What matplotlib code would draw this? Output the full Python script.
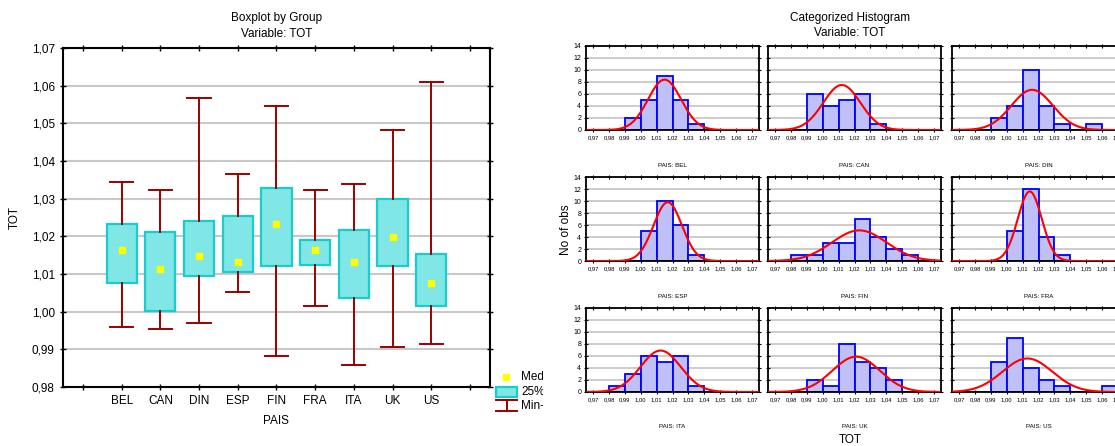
import numpy as np
import matplotlib
matplotlib.use('Agg')
import matplotlib.pyplot as plt
from matplotlib.patches import Rectangle
from matplotlib.ticker import FuncFormatter

plt.rcParams['font.family'] = ['Liberation Sans', 'DejaVu Sans']

# boxplot values (TOT by PAIS)
groups = ['BEL', 'CAN', 'DIN', 'ESP', 'FIN', 'FRA', 'ITA', 'UK', 'US']
box_min = [0.9960, 0.9955, 0.9971, 1.0051, 0.9881, 1.0014, 0.9859, 0.9907, 0.9913]
box_q1 = [1.0077, 1.0003, 1.0094, 1.0104, 1.0120, 1.0125, 1.0035, 1.0120, 1.0015]
box_med = [1.0165, 1.0112, 1.0149, 1.0133, 1.0234, 1.0165, 1.0133, 1.0197, 1.0075]
box_q3 = [1.0233, 1.0211, 1.0242, 1.0253, 1.0328, 1.0189, 1.0216, 1.0300, 1.0152]
box_max = [1.0344, 1.0322, 1.0567, 1.0366, 1.0546, 1.0322, 1.0339, 1.0482, 1.0610]

# histogram counts, bins 0.97-0.98 ... 1.06-1.07
bin_edges = [0.97, 0.98, 0.99, 1.00, 1.01, 1.02, 1.03, 1.04, 1.05, 1.06, 1.07]
hist_bel = [0, 0, 2, 5, 9, 5, 1, 0, 0, 0]
hist_can = [0, 0, 6, 4, 5, 6, 1, 0, 0, 0]
hist_din = [0, 0, 2, 4, 10, 4, 1, 0, 1, 0]
hist_esp = [0, 0, 0, 5, 10, 6, 1, 0, 0, 0]
hist_fin = [0, 1, 1, 3, 3, 7, 4, 2, 1, 0]
hist_fra = [0, 0, 0, 5, 12, 4, 1, 0, 0, 0]
hist_ita = [0, 1, 3, 6, 5, 6, 1, 0, 0, 0]
hist_uk = [0, 0, 2, 1, 8, 5, 4, 2, 0, 0]
hist_us = [0, 0, 5, 9, 4, 2, 1, 0, 0, 1]
hists = [hist_bel, hist_can, hist_din, hist_esp, hist_fin, hist_fra, hist_ita, hist_uk, hist_us]

# fitted normal curves (mean, sd)
curve_mean = [1.015, 1.012, 1.016, 1.017, 1.023, 1.0145, 1.0125, 1.021, 1.013]
curve_sd = [0.01045, 0.0117, 0.0131, 0.00896, 0.0172, 0.00757, 0.0127, 0.0149, 0.0157]

W, H = 1115, 446
fig = plt.figure(figsize=(W / 100, H / 100), dpi=100)


def px_axes(left, top, right, bottom):
    return fig.add_axes([left / W, 1 - bottom / H, (right - left) / W, (bottom - top) / H])


comma = FuncFormatter(lambda v, _: f'{v:.2f}'.replace('.', ','))

# ---------------- boxplot ----------------
ax = px_axes(62.5, 48, 490, 387)
stats = []
for i, g in enumerate(groups):
    stats.append(dict(med=box_med[i], q1=box_q1[i], q3=box_q3[i],
                      whislo=box_min[i], whishi=box_max[i], fliers=[], label=g))
pos = list(range(1, len(groups) + 1))
ax.bxp(stats, positions=pos, widths=0.78, capwidths=0.6, patch_artist=True,
       showfliers=False,
       boxprops=dict(facecolor='#80E6E6', edgecolor='#19CDCD', linewidth=1.6),
       whiskerprops=dict(color='#990000', linewidth=1.4),
       capprops=dict(color='#990000', linewidth=1.4),
       medianprops=dict(visible=False))
ax.plot(pos, box_med, 's', color='#FFFF00', ms=5, zorder=5)
ax.set_xlim(-0.53, 10.52)
ax.set_ylim(0.98, 1.07)
ax.set_yticks(np.round(np.arange(0.98, 1.0701, 0.01), 2))
ax.yaxis.set_major_formatter(comma)
ax.set_xticks(range(11))
ax.set_xticklabels([''] + groups + [''], fontsize=8.5)
ax.tick_params(axis='y', labelsize=8.5)
ax.tick_params(direction='inout', length=4, top=True, right=True, width=1)
ax.grid(axis='y', color='#C8C8C8', lw=1.5)
ax.set_axisbelow(True)
for s in ax.spines.values():
    s.set_linewidth(1.5)
ax.set_xlabel('PAIS', fontsize=8.5, labelpad=6)
ax.set_ylabel('TOT', fontsize=8.5, labelpad=8)
ax.set_title('Boxplot by Group\nVariable: TOT', fontsize=8.5, pad=8, linespacing=1.4)

# legend (clipped like the original)
lg = px_axes(492, 366, 543, 418)
lg.set_xlim(492, 543)
lg.set_ylim(418, 366)
lg.axis('off')
lg.plot([506], [377], 's', color='#FFFF00', ms=5, clip_on=True)
lg.add_patch(Rectangle((496, 387), 21, 10, facecolor='#80E6E6', edgecolor='#19CDCD', lw=1.6))
lg.plot([496, 517], [400, 400], color='#990000', lw=1.4)
lg.plot([496, 517], [411, 411], color='#990000', lw=1.4)
lg.plot([506.5, 506.5], [400, 411], color='#990000', lw=1.4)
for y, t in [(377, 'Median'), (392, '25%-75%'), (406, 'Min-Max')]:
    lg.text(521, y, t, fontsize=8.5, va='center', clip_on=True)

# ---------------- categorized histogram ----------------
col_left = [586, 768, 952]
row_top = [46, 177, 308]
pw, ph = 173, 84
xs = np.linspace(0.9655, 1.0745, 300)
widths = np.diff(bin_edges)
for k, g in enumerate(groups):
    r, c = divmod(k, 3)
    l, t = col_left[c], row_top[r]
    h = px_axes(l, t, l + pw, t + ph)
    n = sum(hists[k])
    h.bar(bin_edges[:-1], hists[k], width=widths, align='edge',
          color='#C0C0F8', edgecolor='#0000FF', linewidth=1.3, zorder=2)
    curve = n * 0.01 * np.exp(-0.5 * ((xs - curve_mean[k]) / curve_sd[k]) ** 2) / (curve_sd[k] * np.sqrt(2 * np.pi))
    h.plot(xs, curve, color='#FF0000', lw=1.5, zorder=3)
    h.set_xlim(0.9655, 1.0745)
    h.set_ylim(0, 14)
    h.set_xticks(bin_edges)
    h.xaxis.set_major_formatter(comma)
    h.set_yticks(range(0, 15, 2))
    h.tick_params(direction='inout', length=3, width=0.8, top=True, right=True,
                  labelsize=4.2, pad=2)
    h.tick_params(axis='y', labelsize=5)
    if c != 0:
        h.set_yticklabels([])
    h.grid(axis='y', color='#C8C8C8', lw=1.3)
    h.set_axisbelow(True)
    for s in h.spines.values():
        s.set_linewidth(1.3)
    fig.text((l + pw / 2) / W, 1 - (t + ph + 35) / H, 'PAIS: ' + g,
             fontsize=4.4, ha='center', va='center')

fig.text(850 / W, 1 - 18 / H, 'Categorized Histogram', fontsize=8.5, ha='center', va='center')
fig.text(850 / W, 1 - 33 / H, 'Variable: TOT', fontsize=8.5, ha='center', va='center')
fig.text(566 / W, 1 - 230 / H, 'No of obs', fontsize=8.5, ha='center', va='center', rotation=90)
fig.text(850 / W, 1 - 440 / H, 'TOT', fontsize=8.5, ha='center', va='center')

fig.savefig('out.png', dpi=100)
